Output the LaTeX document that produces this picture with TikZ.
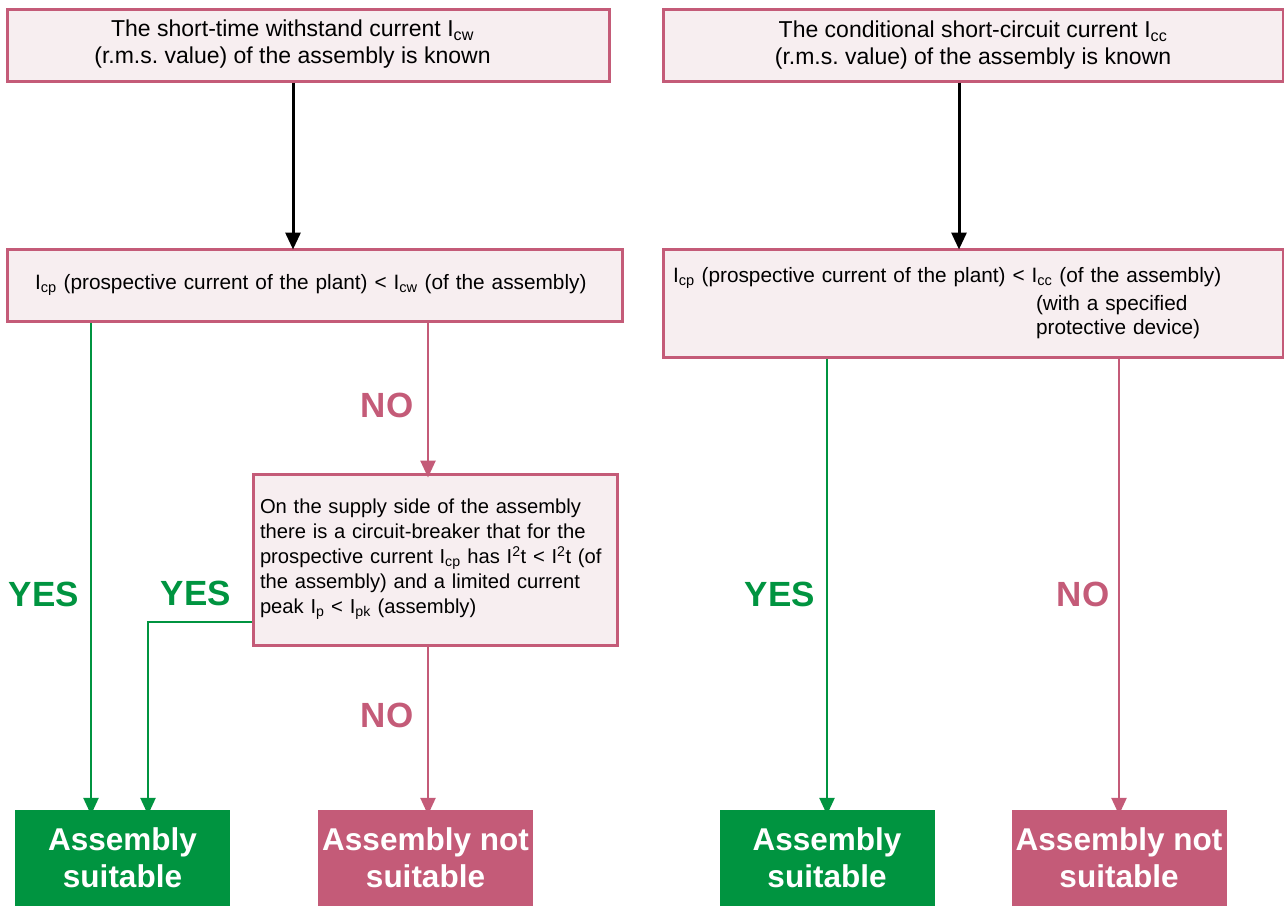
\documentclass[tikz,border=0pt]{standalone}
\usepackage{fontspec}
\setmainfont{Liberation Sans}
\usetikzlibrary{arrows.meta}
\definecolor{rose}{HTML}{C45B78}
\definecolor{roseFill}{HTML}{F7EEF0}
\definecolor{leaf}{HTML}{009440}
\newcommand\lo[1]{\textsubscript{#1}}
\newcommand\hi[1]{\textsuperscript{#1}}
\frenchspacing
\begin{document}
\begin{tikzpicture}[x=1pt,y=-1pt,
  box/.style={draw=rose, line width=3pt, fill=roseFill, inner sep=0pt,
    font=\fontsize{20.8}{25}\selectfont},
  headbox/.style={box, align=center, minimum height=72pt,
    font=\fontsize{23}{27}\selectfont},
  result/.style={inner sep=0pt, text=white, align=center,
    minimum width=215pt, minimum height=96pt,
    font=\bfseries\fontsize{31.5}{37}\selectfont},
  flow/.style={line width=2.5pt, -{Triangle[width=15pt,length=17pt]}},
  answer/.style={font=\bfseries\fontsize{35}{35}\selectfont}]
\useasboundingbox (0,0) rectangle (1284,906);
\fill[white] (0,0) rectangle (1284,906);

% left branch: short-time withstand current
\node[headbox, minimum width=602pt] (a1) at (308,45)
  {\begin{tabular}{@{}c@{\hspace{31pt}}}
   The short-time withstand current I\lo{cw}\\(r.m.s. value) of the assembly is known
   \end{tabular}};
\node[box, align=left, text width=559pt, inner xsep=28pt, minimum height=72pt] (a2) at (314.5,285)
  {I\lo{cp} (prospective current of the plant) < I\lo{cw} (of the assembly)};
\node[box, align=left, text width=350pt, inner xsep=7pt, minimum height=171pt,
  font=\fontsize{20.2}{25}\selectfont] (a3) at (435,559.5)
  {On the supply side of the assembly\\there is a circuit-breaker that for the\\prospective current I\lo{cp} has I\hi{2}t < I\hi{2}t (of\\the assembly) and a limited current\\peak I\lo{p} < I\lo{pk} (assembly)};
\node[result, fill=leaf] (gL) at (122.5,858) {Assembly\\suitable};
\node[result, fill=rose] (pL) at (425.5,858) {Assembly not\\suitable};

% right branch: conditional short-circuit current
\node[headbox, minimum width=620pt] (b1) at (973,45)
  {The conditional short-circuit current I\lo{cc}\\(r.m.s. value) of the assembly is known};
\node[box, align=left, text width=600pt, inner xsep=10pt, minimum height=108pt] (b2) at (973,303)
  {I\lo{cp} (prospective current of the plant) < I\lo{cc} (of the assembly)\\[3pt]
   \hspace*{363pt}(with a specified\\[-1pt]\hspace*{363pt}protective device)};
\node[result, fill=leaf] (gR) at (827,858) {Assembly\\suitable};
\node[result, fill=rose] (pR) at (1119,858) {Assembly not\\suitable};

% connector columns
\coordinate (cA) at (293,0);
\coordinate (cY) at (91,0);
\coordinate (cN) at (428,0);
\coordinate (jY) at (148,622);
\coordinate (cB) at (959,0);
\coordinate (cRY) at (827,0);
\coordinate (cRN) at (1119,0);

\draw[flow, black, line width=3pt] (a1.south -| cA) -- ([yshift=-2pt]a2.north -| cA);
\draw[flow, leaf] (a2.south -| cY) -- ([yshift=-5pt]gL.north -| cY);
\draw[flow, rose] (a2.south -| cN) -- ([yshift=-5pt]a3.north -| cN);
\draw[flow, leaf] (a3.west |- jY) -| ([yshift=-5pt]gL.north -| jY);
\draw[flow, rose] (a3.south -| cN) -- ([yshift=-5pt]pL.north -| cN);

\draw[flow, black, line width=3pt] (b1.south -| cB) -- ([yshift=-2pt]b2.north -| cB);
\draw[flow, leaf] (b2.south -| cRY) -- ([yshift=-5pt]gR.north -| cRY);
\draw[flow, rose] (b2.south -| cRN) -- ([yshift=-5pt]pR.north -| cRN);

% answer labels
\node[answer, text=leaf] (yes1) at (44,594) {YES};
\node[answer, text=leaf] (yes2) at (196,593) {YES};
\node[answer, text=rose] (no1) at (387,405) {NO};
\node[answer, text=rose] (no2) at (387,715) {NO};
\node[answer, text=leaf] (yes3) at (780,594) {YES};
\node[answer, text=rose] (no3) at (1083,594) {NO};
\end{tikzpicture}
\end{document}
